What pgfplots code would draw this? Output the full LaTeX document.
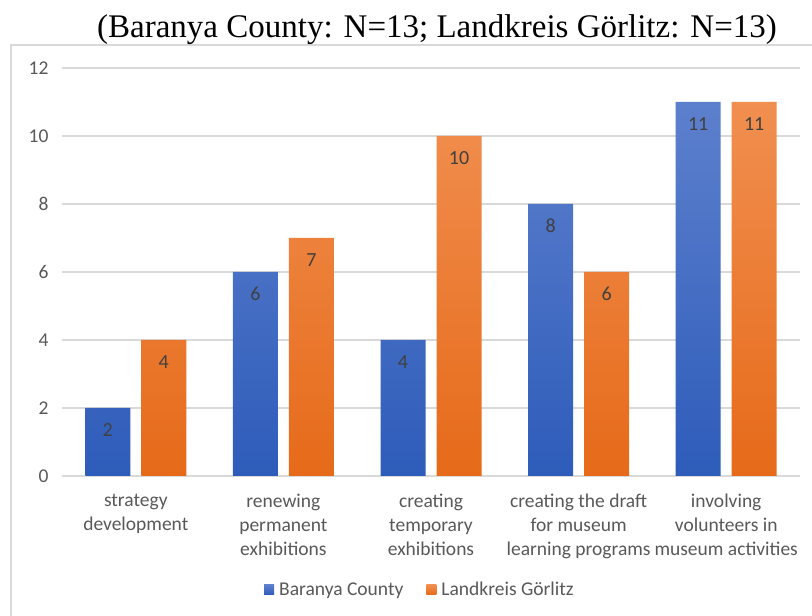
\documentclass[border=0pt]{standalone}
\usepackage{fontspec}
\setmainfont{Carlito}
\newfontfamily\titlefont{Liberation Serif}
\usepackage{pgfplots}
\pgfplotsset{compat=1.18}
\definecolor{gridc}{HTML}{D9D9D9}
\definecolor{txt}{HTML}{595959}
\definecolor{lbl}{HTML}{404040}
\definecolor{bluetop}{RGB}{93,128,205}
\definecolor{bluebot}{RGB}{46,92,186}
\definecolor{orgtop}{RGB}{241,143,80}
\definecolor{orgbot}{RGB}{230,106,25}
\begin{document}
\begin{tikzpicture}[x=1pt,y=1pt]
\useasboundingbox (0,0) rectangle (812,616);
\fill[white] (0,0) rectangle (812,616);
\draw[gridc, line width=1.2pt] (11,-2) -- (11,571) -- (814,571);
\node[font=\titlefont\fontsize{33}{38}\selectfont, anchor=base, inner sep=0pt] at (437,578) {(Baranya County: N=13; Landkreis Görlitz: N=13)};
\begin{axis}[
  at={(62pt,140pt)}, anchor=south west,
  scale only axis, width=738pt, height=408pt,
  xmin=-0.5, xmax=4.5, ymin=0, ymax=12,
  ytick={0,2,...,12},
  xtick={0,...,4},
  xticklabels={{strategy\\development},{renewing\\permanent\\exhibitions},{creating\\temporary\\exhibitions},{creating the draft\\for museum\\learning programs},{involving\\volunteers in\\museum activities}},
  /pgf/number format/assume math mode=true,
  ymajorgrids, major grid style={gridc, line width=1.2pt},
  axis line style={draw=none},
  tick style={draw=none},
  yticklabel style={font=\fontsize{19.5}{22}\selectfont, text=txt, xshift=-10pt},
  xticklabel style={font=\fontsize{19.5}{24}\selectfont, text=txt, align=center, yshift=-10pt},
  ybar=11pt, bar width=45pt,
  nodes near coords,
  every node near coord/.append style={font=\fontsize{20}{22}\selectfont, text=lbl, anchor=center, yshift=-22pt},
  legend style={at={(0.485,-0.279)}, anchor=center, draw=none, legend columns=2, font=\fontsize{19.5}{22}\selectfont, text=txt, /tikz/every even column/.append style={column sep=21pt}},
  legend image code/.code={\path[#1] (0pt,-5pt) rectangle (10pt,5pt); \path (13pt,0pt);},
]
\addplot[draw=none, top color=bluetop, bottom color=bluebot] coordinates {(0,2) (1,6) (2,4) (3,8) (4,11)};
\addplot[draw=none, top color=orgtop, bottom color=orgbot] coordinates {(0,4) (1,7) (2,10) (3,6) (4,11)};
\legend{Baranya County, Landkreis Görlitz}
\end{axis}
\end{tikzpicture}
\end{document}
